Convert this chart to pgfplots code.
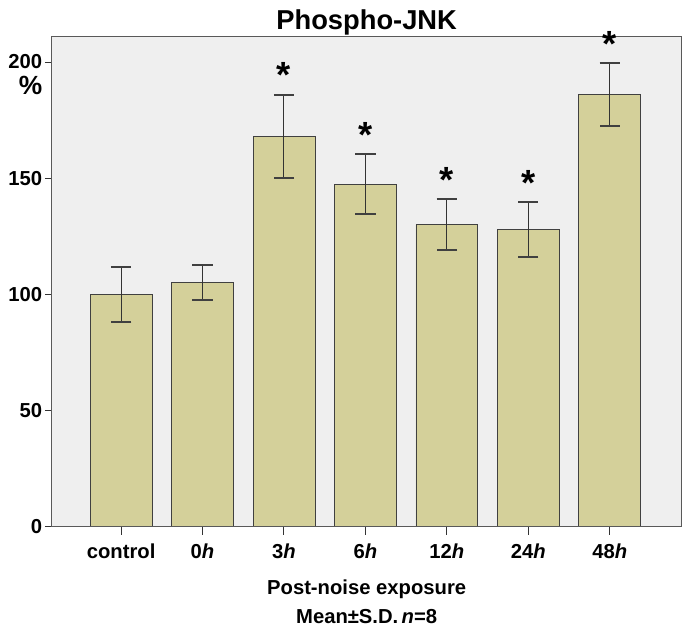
\documentclass[border=0pt]{standalone}
\usepackage{fontspec}
\setmainfont{Liberation Sans}
\usepackage{pgfplots}
\pgfplotsset{compat=1.18}
\definecolor{barfill}{HTML}{D4D09A}
\definecolor{plotbg}{HTML}{EFEFEF}

\begin{document}
\begin{tikzpicture}
\begin{axis}[
  scale only axis,
  width=620bp, height=483bp,
  xmin=-0.85, xmax=6.88,
  ymin=0, ymax=211,
  clip=false,
  axis on top,
  axis background/.style={fill=plotbg},
  axis line style={black!65, line width=0.9pt},
  xtick={0,...,6},
  xticklabels={control,0\textit{h},3\textit{h},6\textit{h},12\textit{h},24\textit{h},48\textit{h}},
  ytick={0,50,100,150,200},
  xtick align=outside, ytick align=outside,
  xtick pos=left, ytick pos=left,
  major tick length=7bp,
  every tick/.style={draw=black!80, line width=1pt},
  xticklabel style={font=\fontsize{20}{22}\selectfont\bfseries, yshift=-6bp},
  yticklabel style={font=\fontsize{20}{22}\selectfont\bfseries, xshift=1bp},
  /pgf/number format/assume math mode=true,
  title={Phospho-JNK},
  title style={font=\fontsize{27}{30}\selectfont\bfseries, yshift=-8bp},
  ylabel={\%},
  ylabel style={rotate=-90, at={(axis description cs:0,0.9)}, anchor=east,
    xshift=-6bp, font=\fontsize{26}{26}\selectfont\bfseries},
  xlabel={Post-noise exposure\\Mean±S.D.\,\textit{n}=8},
  xlabel style={align=center, font=\fontsize{20}{29}\selectfont\bfseries, yshift=-14bp},
]
% bars with SD
\addplot[ybar, bar width=0.76, fill=barfill, draw=black!75, line width=0.8pt,
  error bars/.cd, y dir=both, y explicit,
  error bar style={black!80, line width=1pt},
  error mark options={rotate=90, mark size=10bp, line width=2pt, black!75}]
  coordinates {
  (0,100) +- (0,12)
  (1,105) +- (0,7.5)
  (2,168) +- (0,18)
  (3,147.5) +- (0,13)
  (4,130) +- (0,11)
  (5,128) +- (0,11.8)
  (6,186) +- (0,13.5)
};
% significance marks, at top of SD
\addplot[only marks, mark=none,
  nodes near coords={*},
  nodes near coords style={anchor=south, font=\fontsize{36}{36}\selectfont\bfseries, yshift=3bp}]
  coordinates {
  (2,186) (3,160.5) (4,141) (5,139.8) (6,199.5)
};
% x tick marks below the axis
\pgfplotsinvokeforeach{0,...,6}{
  \draw[black!80, line width=1pt] (axis cs:#1,0) -- ++(0pt,-8bp);
}
\end{axis}
% small margin round the picture, as in the reference
\path ([xshift=-5bp]current axis.outer west) ([xshift=8bp]current axis.outer east)
  ([yshift=6bp]current axis.outer north);
\end{tikzpicture}
\end{document}
